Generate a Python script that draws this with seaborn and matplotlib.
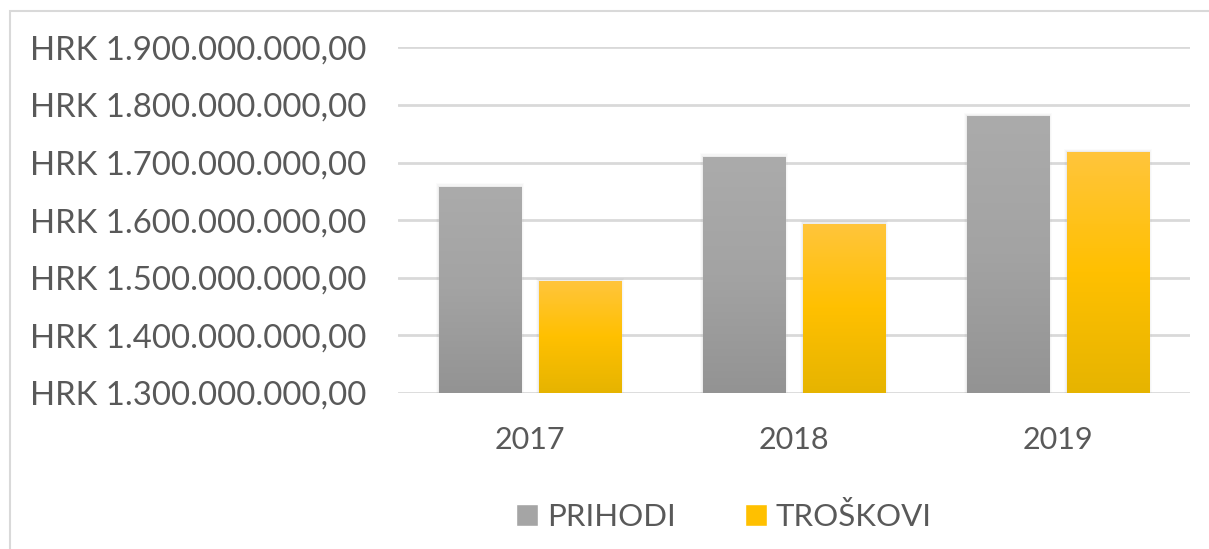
import numpy as np
import pandas as pd
import matplotlib
matplotlib.use("Agg")
import matplotlib.pyplot as plt
import seaborn as sns
from matplotlib.patches import Rectangle
from matplotlib.ticker import FuncFormatter
from matplotlib.colors import LinearSegmentedColormap

years = ["2017", "2018", "2019"]
series = ["PRIHODI", "TROŠKOVI"]
prihodi = [1658e6, 1710e6, 1780e6]
troskovi = [1494e6, 1594e6, 1718e6]
yticks = [1.3e9, 1.4e9, 1.5e9, 1.6e9, 1.7e9, 1.8e9, 1.9e9]

df = pd.DataFrame({
    "year": years * 2,
    "series": [series[0]] * 3 + [series[1]] * 3,
    "value": prihodi + troskovi,
})

sns.set_theme(style="white")
plt.rcParams["font.family"] = ["Lato", "DejaVu Sans"]
text_color = "#595959"

fig = plt.figure(figsize=(12.09, 5.49), dpi=100)
ax = fig.add_axes([398/1209, 1 - 392.7/549, (1190-398)/1209, (392.7-47.4)/549])

base_cols = {"PRIHODI": "#a5a5a5", "TROŠKOVI": "#ffc000"}
sns.barplot(data=df, x="year", y="value", hue="series", order=years,
            hue_order=series, palette=base_cols, width=0.76, gap=0.18,
            ax=ax, legend=False)

ax.set_ylim(1.3e9, 1.9e9)
ax.set_yticks(yticks)
ax.yaxis.set_major_formatter(FuncFormatter(
    lambda v, p: "HRK " + f"{v:,.2f}".replace(",", "X").replace(".", ",").replace("X", ".")))
ax.set_xlabel("")
ax.set_ylabel("")
ax.grid(axis="y", color="#d9d9d9", linewidth=2)
ax.set_axisbelow(True)
for s in ax.spines.values():
    s.set_visible(False)
ax.tick_params(axis="y", length=0, labelsize=23.7, labelcolor=text_color)
ax.tick_params(axis="x", length=0, pad=24, labelsize=22, labelcolor=text_color)
for lab in ax.get_yticklabels():
    lab.set_horizontalalignment("left")
ax.yaxis.set_tick_params(pad=(398 - 30) * 0.72)

# gradient fills
cmaps = {
    "PRIHODI": LinearSegmentedColormap.from_list("g", ["#939393", "#a3a3a3", "#ababab"]),
    "TROŠKOVI": LinearSegmentedColormap.from_list("y", ["#e6b400", "#ffc000", "#ffc53c"]),
}
grad = np.linspace(0, 1, 256).reshape(-1, 1)
for container, name in zip(ax.containers, series):
    for patch in container.patches:
        x0, y0 = patch.get_x(), 1.3e9
        w, h = patch.get_width(), patch.get_y() + patch.get_height()
        for k, a in enumerate([0.035, 0.025, 0.015]):
            sh = Rectangle((x0 - 0.004 * (k + 1), y0), w + 0.008 * (k + 1),
                           h - y0 + 2e6 * (k + 1), facecolor="black", alpha=a,
                           edgecolor="none", zorder=1.5)
            ax.add_patch(sh)
        im = ax.imshow(grad, cmap=cmaps[name], origin="lower", aspect="auto",
                       extent=[x0, x0 + w, y0, h], zorder=2.5)
        im.set_clip_path(patch)
ax.set_xlim(-0.5, 2.5)
ax.set_ylim(1.3e9, 1.9e9)

# legend
handles = [Rectangle((0, 0), 1, 1, facecolor="#a5a5a5"),
           Rectangle((0, 0), 1, 1, facecolor="#ffc000")]
fig.legend(handles, series, loc="center", bbox_to_anchor=(724/1209, 1 - 516/549),
           ncol=2, frameon=False, fontsize=22.5, labelcolor=text_color,
           handlelength=0.7, handleheight=0.7, handletextpad=0.3,
           columnspacing=2.2)

# outer border (top and left visible)
fig.add_artist(Rectangle((10/1209, -0.1), 1.2, 1 - 11/549 + 0.1,
                         transform=fig.transFigure, facecolor="none",
                         edgecolor="#d9d9d9", linewidth=1.5, clip_on=False))

fig.savefig("out.png", dpi=100)
